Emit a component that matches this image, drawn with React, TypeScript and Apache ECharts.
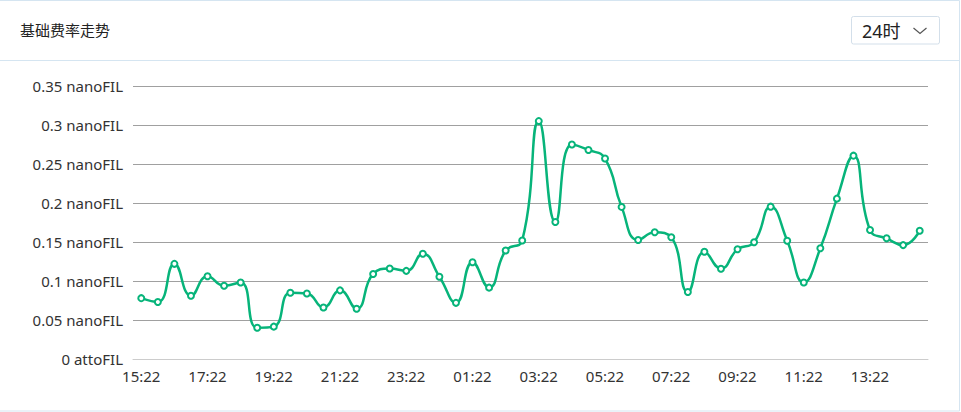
import React, { useEffect, useRef } from "react";
import * as echarts from "echarts";

const times: string[] = [
  "15:22", "15:52", "16:22", "16:52", "17:22", "17:52", "18:22", "18:52",
  "19:22", "19:52", "20:22", "20:52", "21:22", "21:52", "22:22", "22:52",
  "23:22", "23:52", "00:22", "00:52", "01:22", "01:52", "02:22", "02:52",
  "03:22", "03:52", "04:22", "04:52", "05:22", "05:52", "06:22", "06:52",
  "07:22", "07:52", "08:22", "08:52", "09:22", "09:52", "10:22", "10:52",
  "11:22", "11:52", "12:22", "12:52", "13:22", "13:52", "14:22", "14:52",
];

const baseFee: number[] = [
  0.078, 0.073, 0.122, 0.081, 0.106, 0.094, 0.098, 0.040,
  0.0415, 0.085, 0.084, 0.066, 0.088, 0.0645, 0.109, 0.116,
  0.113, 0.135, 0.1055, 0.072, 0.124, 0.0915, 0.139, 0.152,
  0.305, 0.1756, 0.275, 0.268, 0.257, 0.195, 0.1526, 0.1624,
  0.156, 0.086, 0.1376, 0.1158, 0.1406, 0.1496, 0.1953, 0.1517,
  0.098, 0.142, 0.2056, 0.2607, 0.1654, 0.1547, 0.146, 0.1645,
];

const titleText = "基础费率走势";
const rangeText = "24时";

export default function App() {
  const ref = useRef<HTMLDivElement>(null);

  useEffect(() => {
    document.body.style.margin = "0";
    if (!ref.current) return;
    const chart = echarts.init(ref.current, undefined, { renderer: "svg" });
    const font = "'Noto Sans', 'Noto Sans CJK SC', sans-serif";
    chart.setOption({
      animation: false,
      backgroundColor: "#ffffff",
      textStyle: { fontFamily: font },
      title: {
        text: titleText,
        left: 20,
        top: 22,
        padding: 0,
        textStyle: { fontSize: 15, fontWeight: "normal", color: "#222", fontFamily: font },
      },
      graphic: [
        {
          type: "rect",
          shape: { x: -2, y: 0.5, width: 961.5, height: 410.5 },
          style: { fill: "none", stroke: "#d5e5f1", lineWidth: 1 },
          silent: true,
        },
        {
          type: "line",
          shape: { x1: 0, y1: 60.5, x2: 960, y2: 60.5 },
          style: { stroke: "#d5e5f1", lineWidth: 1 },
          silent: true,
        },
        {
          type: "rect",
          shape: { x: 851.5, y: 16.5, width: 88, height: 27.5, r: 2 },
          style: { fill: "#fff", stroke: "#d3dfea", lineWidth: 1 },
          silent: true,
        },
        {
          type: "text",
          x: 862,
          y: 30.5,
          style: {
            text: rangeText,
            fontSize: 18,
            fill: "#222",
            fontFamily: font,
            verticalAlign: "middle",
            align: "left",
          },
          silent: true,
        },
        {
          type: "polyline",
          shape: { points: [[913.5, 28], [920, 33.5], [926.5, 28]] },
          style: { stroke: "#555", lineWidth: 1.2, fill: "none" },
          silent: true,
        },
      ],
      grid: { left: 133, right: 33, top: 86, bottom: 53, containLabel: false },
      xAxis: {
        type: "category",
        data: times,
        boundaryGap: true,
        axisLine: { lineStyle: { color: "#cccccc" } },
        axisTick: { interval: 3, length: 5, lineStyle: { color: "#cccccc" } },
        axisLabel: { interval: 3, color: "#333", fontSize: 15, margin: 9, fontFamily: font },
      },
      yAxis: {
        type: "value",
        min: 0,
        max: 0.35,
        interval: 0.05,
        axisLine: { show: false },
        axisTick: { show: false },
        axisLabel: {
          color: "#333",
          fontSize: 15,
          margin: 10,
          fontFamily: font,
          formatter: (v: number) => (v === 0 ? "0 attoFIL" : `${parseFloat(v.toFixed(2))} nanoFIL`),
        },
        splitLine: { lineStyle: { color: "#a0a0a0", width: 1 } },
      },
      series: [
        {
          type: "line",
          data: baseFee,
          smooth: true,
          symbol: "emptyCircle",
          symbolSize: 6,
          showAllSymbol: true,
          lineStyle: { color: "#07b47a", width: 2.5 },
          itemStyle: { color: "#07b47a", borderColor: "#07b47a", borderWidth: 1.2 },
        },
      ],
    });
    return () => chart.dispose();
  }, []);

  return <div ref={ref} style={{ width: 961, height: 412 }} />;
}
